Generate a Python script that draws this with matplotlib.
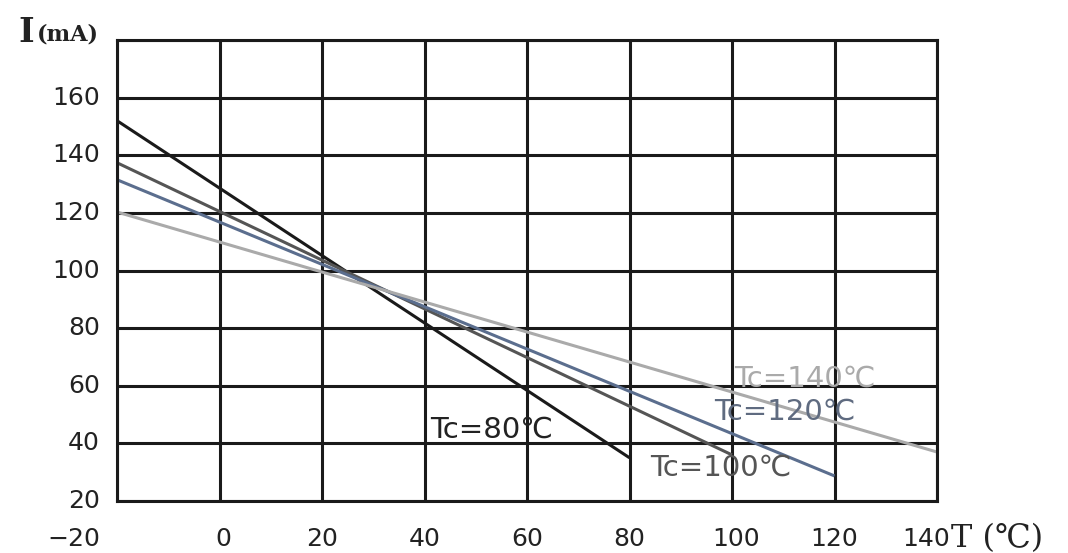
import numpy as np
import matplotlib; matplotlib.use("Agg"); import matplotlib.pyplot as plt
import matplotlib.transforms as mt

# curves: I(mA) vs T(C), one straight line per case temperature Tc
tc_labels = ["Tc=80℃", "Tc=100℃", "Tc=120℃", "Tc=140℃"]
t_start = [-20, -20, -20, -20]
t_end = [80, 100, 120, 140]
i_start = [152, 137.4, 131.5, 120.3]
i_end = [35, 36, 28.7, 37]
line_cols = ["#1a1a1a", "#555555", "#5b6e8e", "#aaaaaa"]
text_cols = ["#222222", "#555555", "#5f6b80", "#aaaaaa"]
label_T = [41, 84, 96.5, 100.5]
label_I = [44.6, 31.5, 51, 62.5]
xticks = [0, 20, 40, 60, 80, 100, 120, 140]
yticks = [20, 40, 60, 80, 100, 120, 140, 160]

plt.rcParams["font.family"] = ["DejaVu Sans"]
fig = plt.figure(figsize=(10.68, 5.53), dpi=100)
ax = fig.add_axes([117/1068, 1-501/553, (937-117)/1068, (501-40)/553])
ax.set_xlim(-20, 140); ax.set_ylim(20, 180)
ax.set_xticks(list(range(-20, 141, 20))); ax.set_yticks(list(range(20, 181, 20)))
ax.set_xticklabels([]); ax.set_yticklabels([])
ax.grid(True, color="#1a1a1a", lw=2.2)
for s in ax.spines.values(): s.set_color("#1a1a1a"); s.set_linewidth(2.2)
ax.tick_params(length=0)
ax.set_axisbelow(True)

for x0, x1, y0, y1, c in zip(t_start, t_end, i_start, i_end, line_cols):
    ax.plot([x0, x1], [y0, y1], color=c, lw=2.2, solid_capstyle="butt")
for s, x, y, c in zip(tc_labels, label_T, label_I, text_cols):
    ax.text(x, y, s, color=c, fontsize=21, va="center", ha="left")

# tick labels as text (positions tied to data coordinates)
tx = mt.blended_transform_factory(ax.transData, ax.transAxes)
ty = mt.blended_transform_factory(ax.transAxes, ax.transData)
for v in xticks:
    off = -11 if v == 140 else (4 if v in (0, 100) else 0)
    ax.text(v, 0, str(v), transform=tx + mt.ScaledTranslation(off/100, -0.38, fig.dpi_scale_trans),
            ha="center", va="center", fontsize=18, color="#222")
for v in yticks:
    ax.text(0, v, str(v), transform=ty + mt.ScaledTranslation(-0.17, 0, fig.dpi_scale_trans),
            ha="right", va="center", fontsize=18, color="#222")
ax.text(0, 0, "\u221220", transform=ax.transAxes + mt.ScaledTranslation(-0.17, -0.38, fig.dpi_scale_trans),
        ha="right", va="center", fontsize=18, color="#222")

serif = ["DejaVu Serif"]
fig.text(18/1068, 1-42/553, "I", fontsize=24, fontweight="bold", family=serif, color="#222", va="baseline")
fig.text(37/1068, 1-41/553, "(mA)", fontsize=16, fontweight="bold", family=serif, color="#222", va="baseline")
fig.text(951/1068, 1-547/553, "T (℃)", fontsize=23, family=serif, color="#222", va="baseline")

fig.savefig("out.png", dpi=100)
